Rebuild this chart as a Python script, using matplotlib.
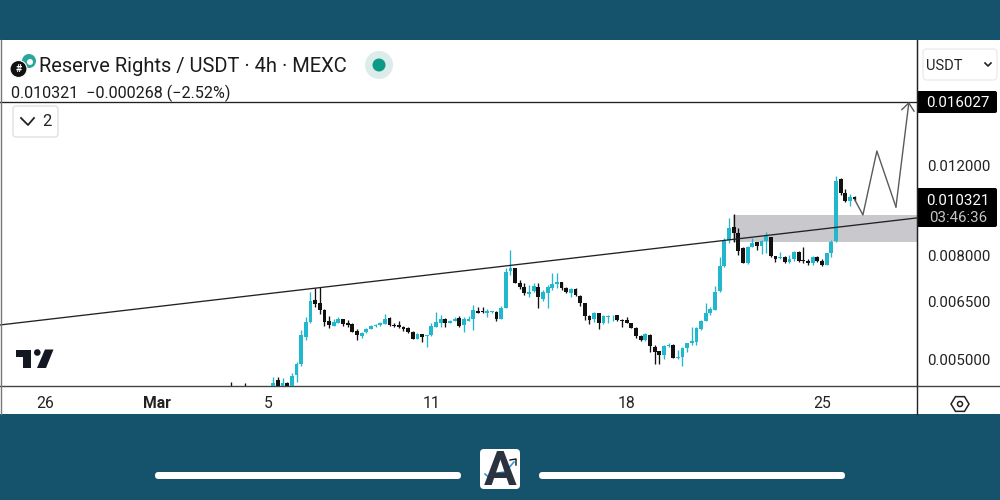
import numpy as np
import matplotlib
matplotlib.use("Agg")
import matplotlib.pyplot as plt
from matplotlib.patches import Rectangle, FancyBboxPatch, Circle, Polygon

plt.rcParams['font.family'] = ['Roboto', 'DejaVu Sans']

# prices in millionths of a USDT
candle_idx = [-9, -6] + list(range(126))
opens = [4340, 4340,
    4400,4569,4400,4502,4453,4673,4910,5556,5928,6547,
    6459,6266,5963,5838,5918,6009,5918,5875,5700,5580,
    5666,5759,5830,5848,5883,6036,5856,5848,5795,5769,
    5682,5505,5616,5573,5598,5812,5918,6017,5918,5971,
    6036,5856,5971,6017,6246,6229,6190,6201,6218,6017,
    6323,7473,7574,7089,6942,6735,6827,6962,6595,6775,
    6930,7037,7111,6930,6757,6889,6684,6459,6099,6009,
    6173,5901,6080,6091,6118,5990,5990,5901,5777,5580,
    5473,5598,5310,5200,5114,5318,5350,5038,5075,5278,
    5392,5431,5751,5971,6190,6266,6827,7644,8595,9127,
    8883,8301,7737,8339,8506,8365,8568,8725,7985,7914,
    7960,7772,7878,8131,7853,7828,7758,7971,7828,7678,
    8094,8557,11320,10639,10264,10423]
highs = [4518, 4497,
    4625,4625,4600,4530,4722,4962,5725,6080,6806,6911,
    6962,6286,6099,6009,6080,6017,5990,5901,5743,5682,
    5769,5856,5883,5944,6154,6063,5901,5971,5830,5795,
    5707,5641,5623,5598,5901,6201,6126,6036,5990,6080,
    6107,6080,6099,6400,6360,6343,6286,6246,6246,6380,
    7564,8215,7585,7175,7069,7015,7069,7089,6858,7015,
    7396,7396,7121,6942,6911,6911,6705,6477,6126,6218,
    6190,6126,6126,6126,6126,6009,6080,5918,5795,5598,
    5641,5616,5343,5215,5350,5406,5367,5231,5295,5406,
    5795,5812,5982,6468,6350,6984,7971,8660,9478,9665,
    9062,8339,8365,8660,8530,8595,8923,8725,7996,8153,
    7996,8032,8178,8178,8316,7889,7996,7996,7878,8117,
    8595,11490,11356,10805,10579,10483]
lows = [4300, 4300,
    4367,4367,4367,4367,4380,4534,4866,5473,5901,6360,
    6154,5830,5777,5830,5901,5830,5812,5666,5473,5515,
    5641,5743,5795,5830,5875,5838,5795,5785,5700,5641,
    5490,5498,5431,5310,5573,5795,5795,5812,5901,5963,
    5795,5666,5963,5725,6173,6173,6080,6173,5963,6009,
    6314,7339,7069,6880,6705,6636,6806,6314,6527,6314,
    6858,6911,6858,6775,6654,6675,6380,5990,5875,5944,
    5743,5883,5901,5963,5971,5795,5901,5769,5530,5448,
    5456,5191,4910,4910,5016,5310,5038,5016,4866,5191,
    5350,5350,5725,5950,6126,6266,6797,7620,8468,8530,
    8032,7737,7713,8316,8215,8057,8094,7971,7772,7878,
    7758,7758,7828,7793,7758,7668,7668,7793,7644,7668,
    7971,8530,10531,10218,10034,10264]
closes = [4320, 4320,
    4514,4400,4514,4400,4652,4910,5590,5928,6527,6447,
    6266,5936,5848,5944,6025,5883,5864,5682,5598,5649,
    5759,5838,5848,5918,6017,5864,5838,5812,5743,5682,
    5505,5623,5556,5598,5838,5944,6009,5901,5963,6025,
    5838,6009,6025,6266,6190,6210,6246,6229,6009,6323,
    7439,7564,7069,6962,6757,6806,6993,6636,6806,6942,
    7037,7102,6930,6787,6889,6705,6459,6099,5990,6190,
    5901,6099,6107,6107,5990,5971,5918,5777,5573,5473,
    5616,5326,5191,5114,5326,5343,5052,5061,5278,5392,
    5456,5769,5971,6190,6295,6806,7644,8595,9086,8859,
    8178,7737,8339,8491,8377,8568,8752,7996,7900,7950,
    7772,7878,8131,7828,7818,7748,7971,7828,7668,8094,
    8530,11233,10639,10250,10450,10321]

price_ticks = [0.005, 0.0065, 0.008, 0.012]
price_labels = ['0.005000', '0.006500', '0.008000', '0.012000']
date_idx = [-49, -25, -1, 34, 76, 118]
date_labels = ['26', 'Mar', '5', '11', '18', '25']

target_price = 0.016027
last_price = 0.010321
trend_idx = [-58.77, 138.43]
trend_price = [0.005856, 0.009493]
zone_idx = [98.8, 138.43]
zone_price = [0.008500, 0.009622]
path_idx = [125, 126.8, 129.8, 133.9]
path_price = [0.010321, 0.009622, 0.01284, 0.009975]
arrow_idx = 136.7

TEAL = '#22b7cd'
DARK = '#111111'
BAND = '#15536c'

fig = plt.figure(figsize=(10, 5), dpi=100, facecolor=BAND)

# white panel under the chart
bg = fig.add_axes([0, 0, 1, 1], zorder=0)
bg.set_xlim(0, 1000)
bg.set_ylim(500, 0)
bg.axis('off')
bg.add_patch(Rectangle((0, 40), 1000, 374, fc='white', ec='none'))

ax = fig.add_axes([0, 114 / 500, 0.917, 346 / 500], zorder=1)
ax.patch.set_alpha(0)
ax.set_yscale('log')
ax.set_xlim(-58.77, 138.43)
ax.set_ylim(0.004446, 0.02119)

ax.fill_between(zone_idx, zone_price[0], zone_price[1], color='#c9c9cd', lw=0, zorder=1)

o, h, l, c = [np.array(v) * 1e-6 for v in (opens, highs, lows, closes)]
colors = [TEAL if cl >= op else DARK for op, cl in zip(o, c)]
ax.vlines(candle_idx, l, h, colors=colors, lw=0.95, zorder=2)
ax.bar(candle_idx, np.abs(c - o), bottom=np.minimum(o, c), width=0.82, color=colors, zorder=3)

ax.plot(trend_idx, trend_price, color='#222222', lw=0.95, zorder=4)
ax.axhline(target_price, color='#222222', lw=0.95, zorder=4)
ax.plot(path_idx, path_price, color='#5a5a5a', lw=1.0, zorder=4)
ax.annotate('', xy=(arrow_idx, target_price), xytext=(path_idx[-1], path_price[-1]),
            arrowprops=dict(arrowstyle='->,head_length=0.55,head_width=0.45', color='#5a5a5a',
                            lw=1.0, shrinkA=0, shrinkB=0), zorder=4)

for side in ['top', 'left']:
    ax.spines[side].set_visible(False)
ax.spines['right'].set_color('#222222')
ax.spines['bottom'].set_color('#444444')
ax.spines['bottom'].set_linewidth(1.0)

ax.yaxis.tick_right()
ax.minorticks_off()
ax.set_yticks(price_ticks, price_labels)
ax.tick_params(axis='y', length=0, pad=7.2, labelsize=10.8, labelcolor='#222222')
ax.set_xticks(date_idx, date_labels)
ax.tick_params(axis='x', length=0, pad=7.2, labelsize=11.3, labelcolor='#222222')
ax.get_xticklabels()[1].set_fontweight('bold')

# everything around the chart, in pixel coordinates
top = fig.add_axes([0, 0, 1, 1], zorder=2)
top.set_xlim(0, 1000)
top.set_ylim(500, 0)
top.axis('off')
top.patch.set_alpha(0)

top.plot([0.7, 0.7], [40, 414], color='#777777', lw=1.0)
top.plot([917, 917], [40, 414], color='#222222', lw=1.0)
top.plot([917, 1000], [386, 386], color='#444444', lw=1.0)

top.text(39, 67, 'Reserve Rights / USDT · 4h · MEXC', fontsize=14.5, color='#1c1c1c', va='center')
top.add_patch(Rectangle((8, 83), 233, 18, fc='white', ec='none'))
top.text(11, 93, '0.010321  −0.000268 (−2.52%)', fontsize=11.6, color='#1c1c1c', va='center')

# symbol icon
top.add_patch(Circle((29, 61), 7, fc='#2aa79b', ec='none'))
top.add_patch(Circle((30, 62), 3, fc='white', ec='none'))
top.add_patch(Circle((18.5, 69), 8.5, fc='#111111', ec='white', lw=0.8))
top.text(18.5, 69.5, '#', color='white', fontsize=7.5, fontweight='bold', ha='center', va='center')

# status dot
top.add_patch(Circle((379, 65), 14, fc='#dcecea', ec='none'))
top.add_patch(Circle((379, 65), 6.5, fc='#0b9a85', ec='none'))

# collapse button
top.add_patch(FancyBboxPatch((13, 106), 45, 31, boxstyle='round,pad=0,rounding_size=3',
                             fc='white', ec='#e0e0e0', lw=1.0))
top.plot([21, 28, 34], [118, 125, 118], color='#222222', lw=1.3)
top.text(47, 122, '2', fontsize=12, color='#222222', ha='center', va='center')

# currency selector
top.add_patch(FancyBboxPatch((923, 49), 74, 31, boxstyle='round,pad=0,rounding_size=4',
                             fc='white', ec='#ececec', lw=1.0))
top.text(926, 65.5, 'USDT', fontsize=10.5, color='#222222', va='center')
top.plot([985, 988, 991], [63, 66, 63], color='#222222', lw=1.2)

# price labels
top.add_patch(FancyBboxPatch((917, 91), 80, 22, boxstyle='round,pad=0,rounding_size=2',
                             fc='black', ec='none'))
top.text(958, 103, f'{target_price:.6f}', color='white', fontsize=10.8, ha='center', va='center')
top.add_patch(FancyBboxPatch((917, 188), 80, 39, boxstyle='round,pad=0,rounding_size=2',
                             fc='black', ec='none'))
top.text(958, 201, f'{last_price:.6f}', color='white', fontsize=10.8, ha='center', va='center')
top.text(958, 218, '03:46:36', color='#c4c4c4', fontsize=10.8, ha='center', va='center')

# TradingView mark
top.add_patch(Polygon([(15.5, 349.5), (31, 349.5), (31, 368), (23, 368), (23, 357), (15.5, 357)],
                      fc='#131722', ec='none'))
top.add_patch(Circle((37.3, 352.5), 3.3, fc='#131722', ec='none'))
top.add_patch(Polygon([(45, 349.5), (53.5, 349.5), (46, 368), (37, 368)], fc='#131722', ec='none'))

# settings hexagon
angles = np.radians(np.arange(0, 360, 60))
top.add_patch(Polygon(np.c_[960 + 9 * np.cos(angles), 404 + 8.5 * np.sin(angles)],
                      fc='white', ec='#222222', lw=1.1))
top.add_patch(Circle((960, 404), 2.5, fc='white', ec='#222222', lw=1.1))

# footer
top.add_patch(FancyBboxPatch((155, 472), 306, 7, boxstyle='round,pad=0,rounding_size=3.5',
                             fc='white', ec='none'))
top.add_patch(FancyBboxPatch((539, 472), 306, 7, boxstyle='round,pad=0,rounding_size=3.5',
                             fc='white', ec='none'))
top.add_patch(FancyBboxPatch((480, 449), 40, 40, boxstyle='round,pad=0,rounding_size=4',
                             fc='white', ec='none'))
top.text(500, 472, 'A', fontsize=35, fontweight='bold', color='#2b3340', ha='center', va='center')
top.plot([485, 490, 498, 505, 514], [474, 478, 473, 472, 462], color='white', lw=2.6)
top.plot([485, 490, 498, 505, 514], [474, 478, 473, 472, 462], color='#2a9fd6', lw=1.2)
top.plot([510, 516, 516], [460, 459, 465], color='#111111', lw=1.0)

plt.savefig('out.png', dpi=100, facecolor=fig.get_facecolor())
plt.close(fig)
